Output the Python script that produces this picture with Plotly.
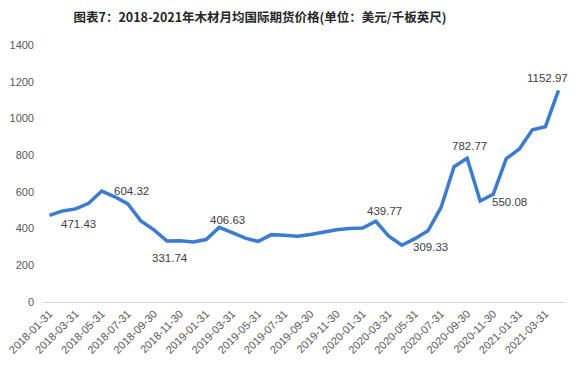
import plotly.graph_objects as go

months = [
    "2018-01-31", "2018-02-28", "2018-03-31", "2018-04-30", "2018-05-31", "2018-06-30",
    "2018-07-31", "2018-08-31", "2018-09-30", "2018-10-31", "2018-11-30", "2018-12-31",
    "2019-01-31", "2019-02-28", "2019-03-31", "2019-04-30", "2019-05-31", "2019-06-30",
    "2019-07-31", "2019-08-31", "2019-09-30", "2019-10-31", "2019-11-30", "2019-12-31",
    "2020-01-31", "2020-02-29", "2020-03-31", "2020-04-30", "2020-05-31", "2020-06-30",
    "2020-07-31", "2020-08-31", "2020-09-30", "2020-10-31", "2020-11-30", "2020-12-31",
    "2021-01-31", "2021-02-28", "2021-03-31", "2021-04-30",
]
prices = [
    471.43, 496, 507, 538, 604.32, 573,
    534, 442, 393, 331.74, 333, 327,
    340, 406.63, 378, 348, 330, 367,
    363, 358, 368, 382, 393, 400,
    403, 439.77, 358, 309.33, 345, 388,
    515, 737, 782.77, 550.08, 587, 781,
    834, 938, 955, 1152.97,
]
tick_labels = months[::2]

# labelled points: (index, x shift px, y shift px)
label_idx = [0, 4, 9, 13, 25, 27, 32, 33, 39]
label_dx = [29, 30, 3, 8, 9, 29, 2, 29, -11]
label_dy = [-9, 0, -17, 7, 10, -2, 12, -1, 12]

fig = go.Figure()
fig.add_trace(go.Scatter(
    x=months, y=prices, mode="lines",
    line=dict(color="#3A7BD5", width=3.5),
    hoverinfo="x+y",
))

for i, dx, dy in zip(label_idx, label_dx, label_dy):
    fig.add_annotation(
        x=months[i], y=prices[i], text=f"{prices[i]:.2f}",
        showarrow=False, xshift=dx, yshift=dy,
        font=dict(family="Liberation Sans, Arial, sans-serif", size=11.5, color="#404040"),
    )

# page body adds an 8px margin on every side
fig.update_layout(
    width=564, height=354,
    margin=dict(l=35, r=7, t=37, b=60, autoexpand=False),
    paper_bgcolor="white", plot_bgcolor="white",
    showlegend=False,
    title=dict(
        text="图表7：2018-2021年木材月均国际期货价格(单位：美元/千板英尺)",
        x=252 / 564, xanchor="center", y=1 - 9.5 / 354, yanchor="middle",
        font=dict(family="Noto Sans CJK SC, sans-serif", size=12.5, color="#262626", weight="bold"),
    ),
    xaxis=dict(
        type="category", categoryorder="array", categoryarray=months,
        range=[-0.5, len(months) - 0.5], automargin=False,
        tickmode="array", tickvals=tick_labels, ticktext=tick_labels,
        tickangle=-45, showgrid=False, zeroline=False,
        showline=True, linecolor="#D9D9D9", linewidth=1,
        ticks="", ticklen=0,
        tickfont=dict(family="Liberation Sans, Arial, sans-serif", size=11, color="#595959"),
    ),
    yaxis=dict(
        range=[0, 1400], tickmode="linear", tick0=0, dtick=200, automargin=False,
        showgrid=False, zeroline=False, showline=False,
        ticks="", ticklabelstandoff=8,
        tickfont=dict(family="Liberation Sans, Arial, sans-serif", size=11, color="#595959"),
    ),
)

fig.write_html("out.html")
